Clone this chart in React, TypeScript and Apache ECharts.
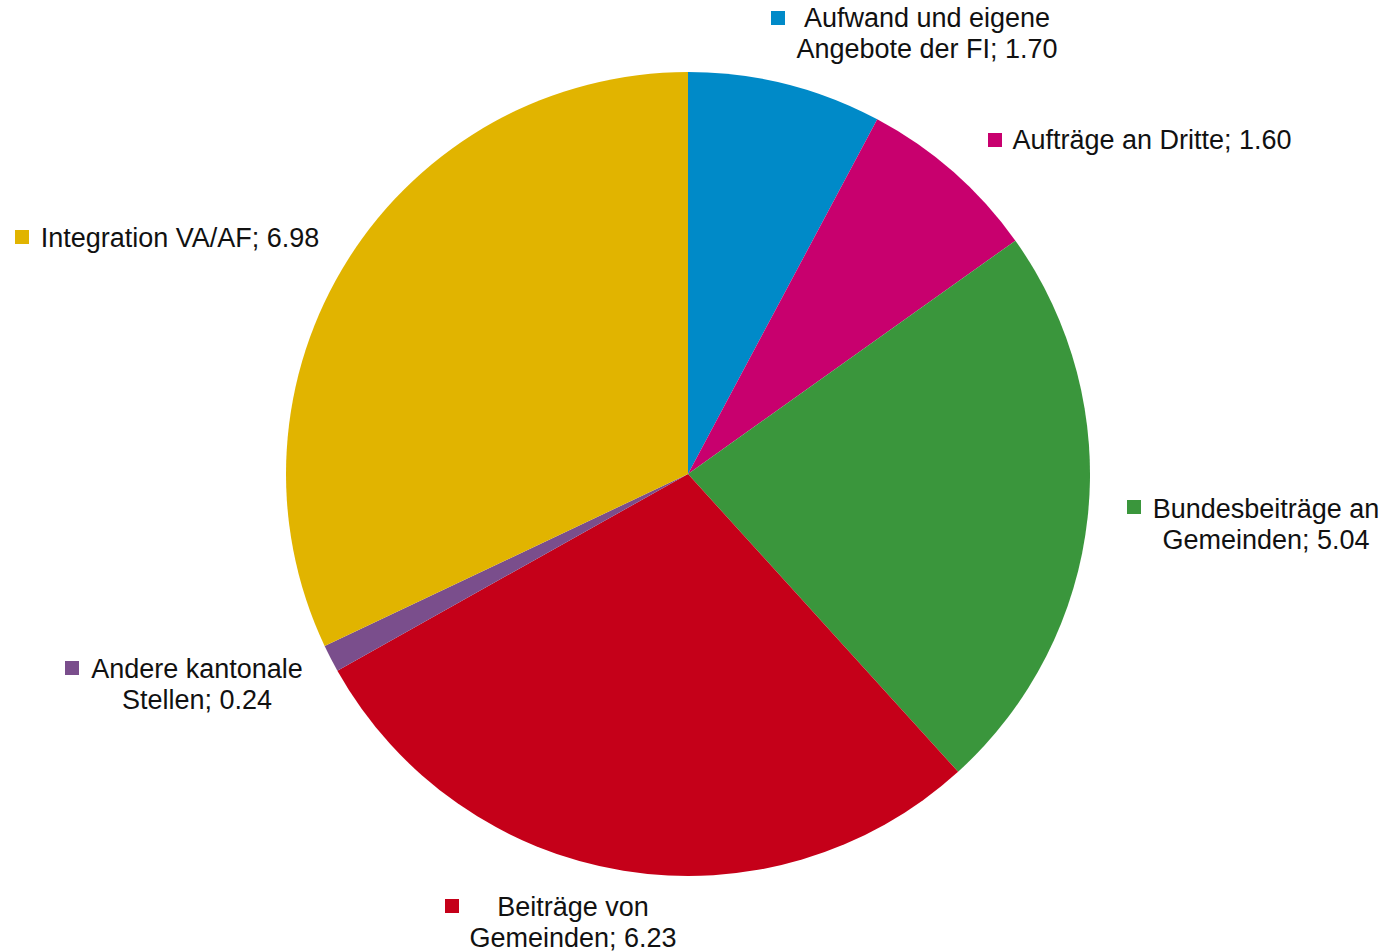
import React, { useEffect, useRef } from "react";
import * as echarts from "echarts";

const categories = [
  "Aufwand und eigene\nAngebote der FI",
  "Aufträge an Dritte",
  "Bundesbeiträge an\nGemeinden",
  "Beiträge von\nGemeinden",
  "Andere kantonale\nStellen",
  "Integration VA/AF",
];
const values = [1.7, 1.6, 5.04, 6.23, 0.24, 6.98];
const colors = ["#008ac8", "#c8006e", "#3a963c", "#c50019", "#7a4e8c", "#e1b400"];

// label block centers (x, y) and marker square centers
const labelPos: [number, number][] = [
  [927, 33],
  [1152, 140],
  [1266, 524],
  [573, 922],
  [197, 684],
  [180, 238],
];
const markerPos: [number, number][] = [
  [778, 18],
  [995, 140],
  [1134, 507],
  [452, 906],
  [72, 668],
  [22, 237],
];

export default function App() {
  const ref = useRef<HTMLDivElement>(null);
  useEffect(() => {
    document.body.style.margin = "0";
    const chart = echarts.init(ref.current!, null, { renderer: "svg" });
    chart.setOption({
      animation: false,
      backgroundColor: "#ffffff",
      series: [
        {
          type: "pie",
          center: [688, 474],
          radius: 402,
          startAngle: 90,
          clockwise: true,
          data: categories.map((name, i) => ({
            name,
            value: values[i],
            itemStyle: { color: colors[i] },
          })),
          itemStyle: { borderWidth: 0 },
          label: {
            show: true,
            position: "outside",
            formatter: (p: any) => `${p.name}; ${Number(p.value).toFixed(2)}`,
            fontFamily: "Liberation Sans, Arial, sans-serif",
            fontSize: 27,
            lineHeight: 31,
            color: "#111111",
            align: "center",
          },
          labelLine: { show: false },
          labelLayout: (params: any) => {
            const p = labelPos[params.dataIndex];
            return { x: p[0], y: p[1], align: "center", verticalAlign: "middle" };
          },
          emphasis: { disabled: true },
        },
      ],
      graphic: markerPos.map((m, i) => ({
        type: "rect",
        shape: { x: m[0] - 7, y: m[1] - 7, width: 14, height: 14 },
        style: { fill: colors[i] },
      })),
    });
    return () => chart.dispose();
  }, []);
  return <div ref={ref} style={{ width: 1389, height: 952 }} />;
}
